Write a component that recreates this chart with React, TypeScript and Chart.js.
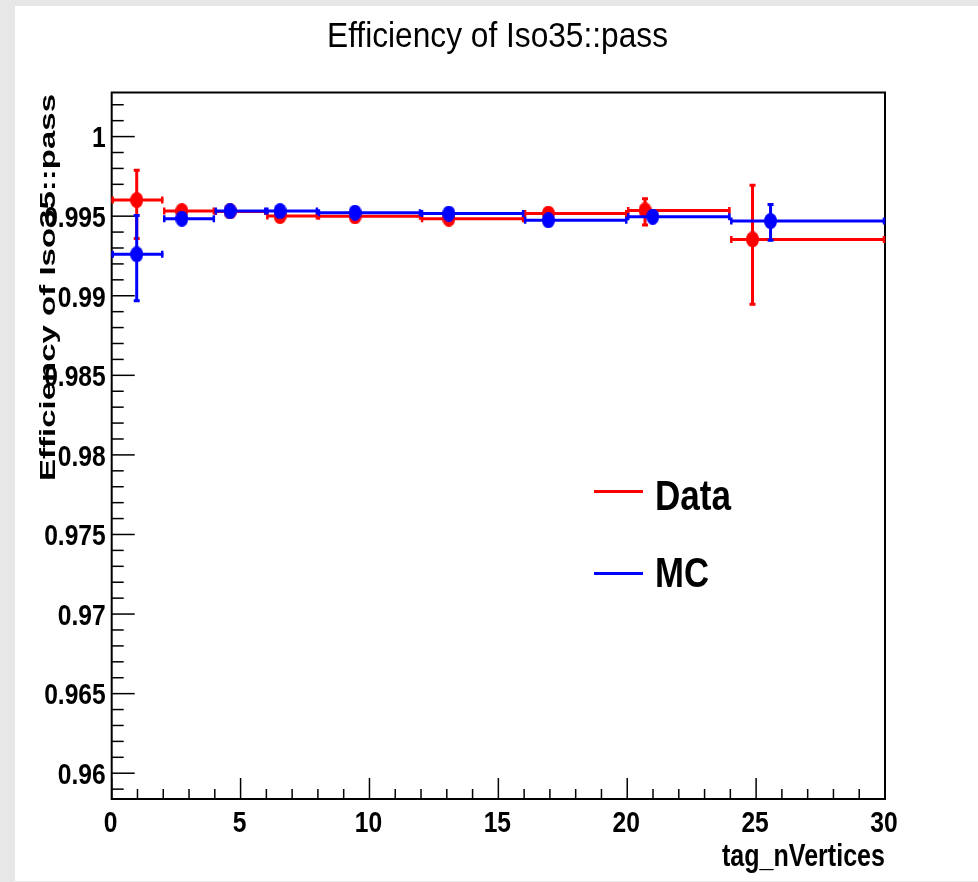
import React, { useEffect, useRef } from 'react';
import { Chart, registerables } from 'chart.js';

Chart.register(...registerables);

// ---- data ----
const binLow = [0, 2, 4, 6, 8, 12, 16, 20, 24];
const binHigh = [2, 4, 6, 8, 12, 16, 20, 24, 30];

const dataX = [0.97, 2.72, 4.59, 6.53, 9.44, 13.08, 16.94, 20.69, 24.86];
const dataY = [0.99601, 0.99532, 0.9953, 0.99501, 0.99499, 0.99484, 0.99516, 0.99536, 0.99354];
const dataErrUp = [0.00193, 0.0002, 0.00015, 0.0002, 0.00015, 0.00015, 0.0002, 0.0008, 0.00346];
const dataErrDown = [0.00247, 0.0002, 0.00015, 0.0002, 0.00015, 0.00015, 0.0002, 0.00098, 0.00413];

const mcX = [0.97, 2.72, 4.59, 6.53, 9.44, 13.08, 16.94, 20.99, 25.56];
const mcY = [0.9926, 0.99484, 0.99532, 0.99532, 0.99522, 0.99516, 0.99474, 0.99497, 0.99469];
const mcErrUp = [0.00251, 0.0003, 0.0002, 0.0002, 0.0001, 0.0001, 0.0002, 0.0004, 0.00111];
const mcErrDown = [0.00298, 0.0003, 0.0002, 0.0002, 0.0001, 0.0001, 0.0002, 0.0004, 0.00126];

const xTickValues = [0, 5, 10, 15, 20, 25, 30];
const xTickLabels = ['0', '5', '10', '15', '20', '25', '30'];
const yTickValues = [0.96, 0.965, 0.97, 0.975, 0.98, 0.985, 0.99, 0.995, 1];
const yTickLabels = ['0.96', '0.965', '0.97', '0.975', '0.98', '0.985', '0.99', '0.995', '1'];

const X_MIN = 0;
const X_MAX = 30;
const Y_MIN = 0.95838;
const Y_MAX = 1.00277;

const TITLE = 'Efficiency of Iso35::pass';
const Y_TITLE = 'Efficiency of Iso35::pass';
const X_TITLE = 'tag_nVertices';
const LEGEND = [
  { label: 'Data', color: '#ff0000' },
  { label: 'MC', color: '#0000ff' },
];

const SANS = "'Liberation Sans', Arial, sans-serif";

function drawScaled(
  ctx: CanvasRenderingContext2D,
  text: string,
  x: number,
  y: number,
  font: string,
  sx: number,
  align: CanvasTextAlign,
  rotate = false
) {
  ctx.save();
  ctx.font = font;
  ctx.textBaseline = 'alphabetic';
  ctx.textAlign = align;
  ctx.fillStyle = '#000';
  ctx.translate(x, y);
  if (rotate) ctx.rotate(-Math.PI / 2);
  ctx.scale(sx, 1);
  ctx.fillText(text, 0, 0);
  ctx.restore();
}

function fitText(
  ctx: CanvasRenderingContext2D,
  text: string,
  x: number,
  y: number,
  font: string,
  width: number,
  align: CanvasTextAlign,
  rotate = false
) {
  ctx.save();
  ctx.font = font;
  const w = ctx.measureText(text).width;
  ctx.restore();
  drawScaled(ctx, text, x, y, font, width / w, align, rotate);
}

const rootPlugin = {
  id: 'rootStyle',
  beforeDraw(chart: any) {
    const ctx = chart.ctx as CanvasRenderingContext2D;
    ctx.save();
    ctx.fillStyle = '#e7e7e7';
    ctx.fillRect(0, 0, chart.width, chart.height);
    ctx.fillStyle = '#ffffff';
    ctx.fillRect(15, 6, chart.width - 15, chart.height - 7);
    ctx.restore();
  },
  beforeDatasetsDraw(chart: any) {
    const ctx = chart.ctx as CanvasRenderingContext2D;
    const xs = chart.scales.x;
    const ys = chart.scales.y;
    const a = chart.chartArea;
    ctx.save();
    ctx.strokeStyle = '#000';
    ctx.lineWidth = 1.5;
    for (let k = Math.ceil(Y_MIN * 1000); k <= Math.floor(Y_MAX * 1000); k++) {
      const v = k / 1000;
      const py = ys.getPixelForValue(v);
      const len = k % 5 === 0 ? 23 : 12;
      ctx.beginPath();
      ctx.moveTo(a.left, py);
      ctx.lineTo(a.left + len, py);
      ctx.stroke();
    }
    for (let k = X_MIN; k <= X_MAX; k++) {
      const px = xs.getPixelForValue(k);
      const len = k % 5 === 0 ? 21 : 10;
      ctx.beginPath();
      ctx.moveTo(px, a.bottom);
      ctx.lineTo(px, a.bottom - len);
      ctx.stroke();
    }
    ctx.lineWidth = 2;
    ctx.strokeRect(a.left, a.top, a.right - a.left, a.bottom - a.top);
    ctx.restore();
  },
  beforeDatasetDraw(chart: any, args: any) {
    const ds = chart.data.datasets[args.index];
    const ctx = chart.ctx as CanvasRenderingContext2D;
    const xs = chart.scales.x;
    const ys = chart.scales.y;
    ctx.save();
    ctx.strokeStyle = ds.borderColor;
    ctx.lineCap = 'butt';
    ds.data.forEach((p: any, j: number) => {
      const px = xs.getPixelForValue(p.x);
      const py = ys.getPixelForValue(p.y);
      const xl = xs.getPixelForValue(ds.xLow[j]);
      const xh = xs.getPixelForValue(ds.xHigh[j]);
      const yu = ys.getPixelForValue(p.y + ds.errUp[j]);
      const yd = ys.getPixelForValue(p.y - ds.errDown[j]);
      ctx.lineWidth = 3;
      ctx.beginPath();
      ctx.moveTo(xl, py);
      ctx.lineTo(xh, py);
      ctx.moveTo(px, yu);
      ctx.lineTo(px, yd);
      ctx.stroke();
      ctx.lineWidth = 2.5;
      ctx.beginPath();
      ctx.moveTo(xl + 1, py - 3.5);
      ctx.lineTo(xl + 1, py + 3.5);
      ctx.moveTo(xh - 1, py - 3.5);
      ctx.lineTo(xh - 1, py + 3.5);
      ctx.stroke();
      ctx.lineWidth = 3;
      ctx.beginPath();
      ctx.moveTo(px - 3, yu + 1);
      ctx.lineTo(px + 3, yu + 1);
      ctx.moveTo(px - 3, yd - 1);
      ctx.lineTo(px + 3, yd - 1);
      ctx.stroke();
    });
    ctx.restore();
  },
  afterDraw(chart: any) {
    const ctx = chart.ctx as CanvasRenderingContext2D;
    const xs = chart.scales.x;
    const ys = chart.scales.y;
    const a = chart.chartArea;
    const tickFont = `bold 30px ${SANS}`;
    yTickValues.forEach((v, i) => {
      const py = ys.getPixelForValue(v);
      drawScaled(ctx, yTickLabels[i], a.left - 6, py + 10.8, tickFont, 0.82, 'right');
    });
    xTickValues.forEach((v, i) => {
      const px = xs.getPixelForValue(v);
      drawScaled(ctx, xTickLabels[i], px - 1, a.bottom + 33, tickFont, 0.82, 'center');
    });

    fitText(ctx, TITLE, 497.5, 47, `35px ${SANS}`, 341, 'center');
    fitText(ctx, X_TITLE, a.right, 866, `bold 32px ${SANS}`, 163, 'right');
    fitText(ctx, Y_TITLE, 55, 481, `bold 22px ${SANS}`, 387, 'left', true);

    const legY = [491.5, 573.5];
    const legBase = [510, 586.5];
    const legW = [76, 54];
    LEGEND.forEach((l, i) => {
      ctx.save();
      ctx.strokeStyle = l.color;
      ctx.lineWidth = 3;
      ctx.beginPath();
      ctx.moveTo(594, legY[i]);
      ctx.lineTo(643, legY[i]);
      ctx.stroke();
      ctx.restore();
      fitText(ctx, l.label, 655, legBase[i], `bold 42px ${SANS}`, legW[i], 'left');
    });
  },
};

function makeMarker(color: string) {
  const c = document.createElement('canvas');
  c.width = 13;
  c.height = 16;
  const g = c.getContext('2d')!;
  g.fillStyle = color;
  g.beginPath();
  g.ellipse(6.5, 8, 6.5, 8, 0, 0, Math.PI * 2);
  g.fill();
  return c;
}

export default function App() {
  const ref = useRef<HTMLCanvasElement>(null);
  useEffect(() => {
    const canvas = ref.current!;
    const chart = new Chart(canvas, {
      type: 'scatter',
      data: {
        datasets: [
          {
            label: 'MC',
            data: mcX.map((x, i) => ({ x, y: mcY[i] })),
            xLow: binLow,
            xHigh: binHigh,
            errUp: mcErrUp,
            errDown: mcErrDown,
            borderColor: '#0000ff',
            backgroundColor: '#0000ff',
            pointStyle: makeMarker('#0000ff'),
            pointRadius: 6,
            showLine: false,
          } as any,
          {
            label: 'Data',
            data: dataX.map((x, i) => ({ x, y: dataY[i] })),
            xLow: binLow,
            xHigh: binHigh,
            errUp: dataErrUp,
            errDown: dataErrDown,
            borderColor: '#ff0000',
            backgroundColor: '#ff0000',
            pointStyle: makeMarker('#ff0000'),
            pointRadius: 6,
            showLine: false,
          } as any,
        ],
      },
      options: {
        responsive: false,
        animation: false,
        devicePixelRatio: 1,
        events: [],
        layout: { padding: { top: 92.5, right: 93, left: 0, bottom: 0 } },
        plugins: {
          legend: { display: false },
          title: { display: false },
          tooltip: { enabled: false },
        },
        scales: {
          x: {
            type: 'linear',
            min: X_MIN,
            max: X_MAX,
            grid: { display: false, drawTicks: false },
            border: { display: false },
            ticks: { display: false },
            afterFit: (s: any) => {
              s.height = 83;
            },
          },
          y: {
            type: 'linear',
            min: Y_MIN,
            max: Y_MAX,
            grid: { display: false, drawTicks: false },
            border: { display: false },
            ticks: { display: false },
            afterFit: (s: any) => {
              s.width = 111.7;
            },
          },
        },
      } as any,
      plugins: [rootPlugin],
    });
    return () => chart.destroy();
  }, []);
  return (
    <div style={{ position: 'absolute', left: 0, top: 0, width: 978, height: 882 }}>
      <canvas ref={ref} width={978} height={882} style={{ display: 'block' }} />
    </div>
  );
}
